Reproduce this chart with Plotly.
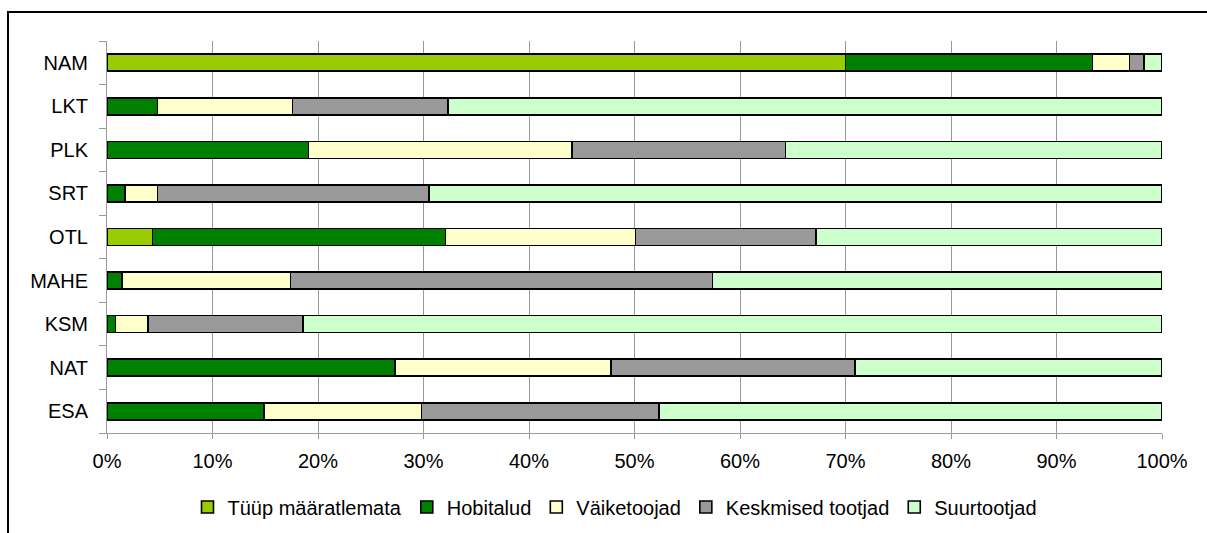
import plotly.graph_objects as go

categories = ["ESA", "NAT", "KSM", "MAHE", "OTL", "SRT", "PLK", "LKT", "NAM"]
tyyp_maaratlemata = [None, None, None, None, 4.3, None, None, None, 70.0]
hobitalud = [14.9, 27.3, 0.8, 1.4, 27.8, 1.7, 19.1, 4.8, 23.4]
vaiketootjad = [14.9, 20.5, 3.1, 16.0, 18.0, 3.1, 25.0, 12.8, 3.5]
keskmised_tootjad = [22.5, 23.1, 14.7, 40.0, 17.1, 25.7, 20.2, 14.7, 1.4]
suurtootjad = [47.7, 29.1, 81.4, 42.6, 32.8, 69.5, 35.7, 67.7, 1.7]

series = [
    ("Tüüp määratlemata", tyyp_maaratlemata, "#99CC00"),
    ("Hobitalud", hobitalud, "#008000"),
    ("Väiketoojad", vaiketootjad, "#FFFFCC"),
    ("Keskmised tootjad", keskmised_tootjad, "#999999"),
    ("Suurtootjad", suurtootjad, "#CCFFCC"),
]

x_ticks = list(range(0, 101, 10))

fig = go.Figure()
for name, vals, color in series:
    fig.add_trace(go.Bar(
        y=categories, x=vals, name=name, orientation="h",
        marker=dict(color=color, line=dict(color="#000000", width=1.6)),
    ))

W, H = 1207, 533
ml, mr, mt, mb = 107, 45, 41, 100
pw, ph = W - ml - mr, H - mt - mb

def px_x(p):
    return (p - ml) / pw

def px_y(p):
    return (H - mb - p) / ph

fig.update_layout(
    width=W, height=H,
    margin=dict(l=ml, r=mr, t=mt, b=mb, autoexpand=False),
    barmode="stack",
    bargap=0.61,
    paper_bgcolor="white",
    plot_bgcolor="white",
    font=dict(family="Liberation Sans, Arial, sans-serif", size=20, color="#000000"),
    showlegend=True,
    legend=dict(
        orientation="h", x=px_x(615), xanchor="center", y=px_y(507), yanchor="middle",
        font=dict(size=20), itemwidth=30, traceorder="normal",
        bgcolor="rgba(0,0,0,0)",
    ),
    xaxis=dict(
        range=[0, 100], tickvals=x_ticks, ticktext=[f"{v}%" for v in x_ticks],
        showgrid=True, gridcolor="#9a9a9a", gridwidth=1,
        showline=True, linecolor="#9a9a9a", linewidth=1,
        ticks="outside", ticklen=5, tickcolor="#9a9a9a",
        zeroline=False, fixedrange=True, automargin=False,
        ticklabelstandoff=5,
    ),
    yaxis=dict(
        categoryorder="array", categoryarray=categories,
        showline=True, linecolor="#9a9a9a", linewidth=1,
        ticks="outside", ticklen=7, tickcolor="#9a9a9a", tickson="boundaries",
        showgrid=False, zeroline=False, fixedrange=True, automargin=False,
        ticklabelstandoff=14,
    ),
    shapes=[dict(
        type="rect", xref="paper", yref="paper",
        x0=px_x(8), x1=px_x(1300), y0=px_y(620), y1=px_y(12),
        line=dict(color="#000000", width=2), fillcolor="rgba(0,0,0,0)", layer="below",
    )],
)

fig.write_html(
    "out.html",
    config={"displayModeBar": False},
    post_script="document.body.style.margin='0';document.body.style.overflow='hidden';",
)
